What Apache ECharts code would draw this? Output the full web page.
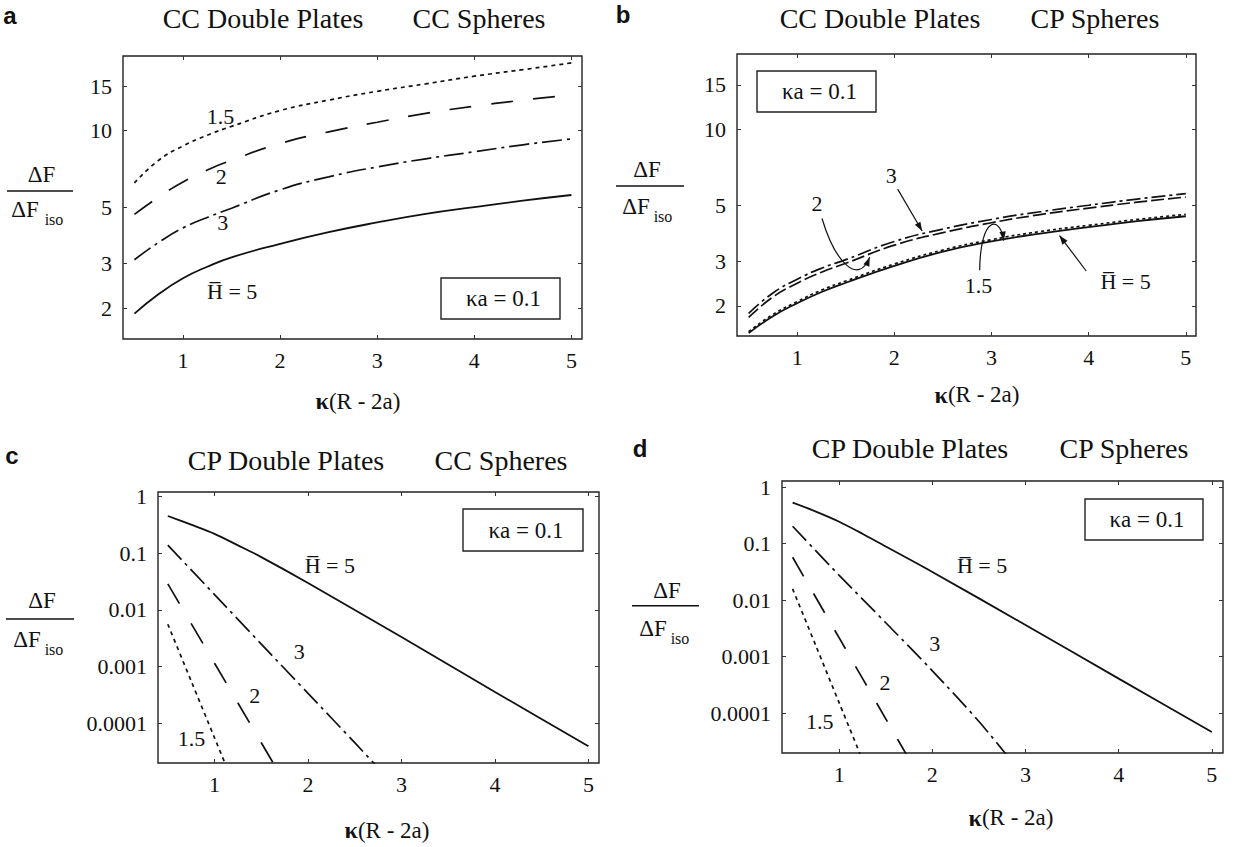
<!DOCTYPE html>
<html>
<head>
<meta charset="utf-8">
<script src="https://cdn.jsdelivr.net/npm/echarts@6/dist/echarts.min.js"></script>
<style>
  html, body { margin: 0; padding: 0; background: #fff; }
  #chart { width: 1242px; height: 847px; }
</style>
</head>
<body>
<div id="chart"></div>
<script>
// ---- tick values ----
const xTicks = [1, 2, 3, 4, 5];
const yTicksRatio = [2, 3, 5, 10, 15];
const yTicksDecade = [0.0001, 0.001, 0.01, 0.1, 1];

// ---- (a) CC double plates / CC spheres ----
const aX   = [0.5, 0.75, 1, 1.25, 1.5, 2, 2.5, 3, 3.5, 4, 4.5, 5];
const aH15 = [6.22, 7.65, 8.7, 9.6, 10.4, 12.0, 13.2, 14.3, 15.3, 16.4, 17.4, 18.5];
const aH2  = [4.68, 5.48, 6.28, 7.0, 7.65, 8.9, 9.9, 10.8, 11.7, 12.5, 13.2, 13.85];
const aH3  = [3.1, 3.63, 4.14, 4.55, 4.95, 5.85, 6.58, 7.2, 7.75, 8.26, 8.8, 9.28];
const aH5  = [1.90, 2.27, 2.62, 2.91, 3.17, 3.58, 3.98, 4.35, 4.7, 5.0, 5.3, 5.58];

// ---- (b) CC double plates / CP spheres ----
const bX   = [0.5, 0.75, 1, 1.25, 1.5, 2, 2.5, 3, 3.5, 4, 4.5, 5];
const bH15 = [1.58, 1.85, 2.08, 2.31, 2.51, 2.93, 3.33, 3.66, 3.94, 4.17, 4.4, 4.61];
const bH2  = [1.80, 2.17, 2.46, 2.72, 2.95, 3.48, 3.9, 4.27, 4.6, 4.88, 5.15, 5.4];
const bH3  = [1.87, 2.25, 2.55, 2.82, 3.05, 3.6, 4.03, 4.4, 4.72, 5.01, 5.3, 5.57];
const bH5  = [1.56, 1.82, 2.05, 2.27, 2.47, 2.88, 3.28, 3.6, 3.87, 4.1, 4.33, 4.53];

// ---- (c) CP double plates / CC spheres ----
const cX5  = [0.5, 0.75, 1, 1.25, 1.5, 2, 3, 4, 5];
const cH5  = [0.45, 0.316, 0.218, 0.137, 0.085, 0.0298, 0.00333, 0.00036, 0.0000397];
const cX3  = [0.5, 1, 1.5, 2, 2.5, 2.75];
const cH3  = [0.138, 0.0186, 0.0025, 0.00034, 0.000046, 0.0000166];
const cX2  = [0.5, 1, 1.5, 1.7];
const cH2  = [0.0288, 0.00115, 0.000046, 0.0000126];
const cX15 = [0.5, 0.75, 1, 1.15];
const cH15 = [0.0056, 0.00056, 0.000056, 0.000014];

// ---- (d) CP double plates / CP spheres ----
const dX5  = [0.5, 0.75, 1, 1.25, 1.5, 2, 3, 4, 5];
const dH5  = [0.533, 0.37, 0.245, 0.15, 0.089, 0.0316, 0.00363, 0.000407, 0.000046];
const dX3  = [0.5, 1, 1.5, 2, 2.5, 2.85];
const dH3  = [0.204, 0.0275, 0.00398, 0.00056, 0.000071, 0.0000141];
const dX2  = [0.5, 1, 1.5, 1.8];
const dH2  = [0.0575, 0.00214, 0.000079, 0.000011];
const dX15 = [0.5, 0.75, 1, 1.27];
const dH15 = [0.0158, 0.00155, 0.000151, 0.0000123];

// ---- look ----
const SERIF = 'Liberation Serif';
const SANS = 'Liberation Sans';
const INK = '#111';

const panels = [
  { grid: { left: 123, top: 56, width: 459, height: 283 }, x: [0.382, 5.109], y: [1.51, 19.7], yTicks: yTicksRatio, smooth: 0.5 },
  { grid: { left: 737, top: 54, width: 459, height: 282 }, x: [0.38, 5.105],  y: [1.52, 19.9], yTicks: yTicksRatio, smooth: 0.5 },
  { grid: { left: 158, top: 492, width: 441, height: 271 }, x: [0.395, 5.113], y: [2.02e-5, 1.19], yTicks: yTicksDecade, smooth: 0.3 },
  { grid: { left: 782, top: 481, width: 441, height: 272 }, x: [0.386, 5.12],  y: [1.96e-5, 1.29], yTicks: yTicksDecade, smooth: 0.3 }
];

const DOT = [4, 4];
const DASH = [22, 20];
const DASH_C = [23, 23];
const DASHDOT = [20, 5, 3, 5];
const DASH_B = [13, 4];
const DASHDOT_B = [14, 4, 3, 4];

const grids = panels.map(p => Object.assign({ show: true, borderColor: '#222', borderWidth: 1.4, backgroundColor: 'transparent' }, p.grid));

function xAxisOf(i, pos, showLabel) {
  const p = panels[i];
  return {
    type: 'value', gridIndex: i, position: pos, min: p.x[0], max: p.x[1],
    axisLine: { show: false }, splitLine: { show: false },
    axisTick: { show: true, inside: true, length: 4, customValues: xTicks, lineStyle: { color: '#333', width: 1 } },
    axisLabel: { show: showLabel, customValues: xTicks, margin: 10, color: INK, fontFamily: SERIF, fontSize: 22, formatter: v => String(v) }
  };
}
function yAxisOf(i, pos, showLabel) {
  const p = panels[i];
  return {
    type: 'log', logBase: 10, gridIndex: i, position: pos, min: p.y[0], max: p.y[1],
    axisLine: { show: false }, splitLine: { show: false }, minorTick: { show: false },
    axisTick: { show: true, inside: true, length: 4, customValues: p.yTicks, lineStyle: { color: '#333', width: 1 } },
    axisLabel: { show: showLabel, customValues: p.yTicks, margin: 11, color: INK, fontFamily: SERIF, fontSize: 22, formatter: v => String(v) }
  };
}

const xAxes = [0, 1, 2, 3].map(i => xAxisOf(i, 'bottom', true)).concat([0, 1, 2, 3].map(i => xAxisOf(i, 'top', false)));
const yAxes = [0, 1, 2, 3].map(i => yAxisOf(i, 'left', true)).concat([0, 1, 2, 3].map(i => yAxisOf(i, 'right', false)));
// secondary axes belong to the same grids
for (let i = 4; i < 8; i++) { xAxes[i].gridIndex = i - 4; yAxes[i].gridIndex = i - 4; }

function curve(i, xs, ys, dash, width) {
  return {
    type: 'line', xAxisIndex: i, yAxisIndex: i,
    data: xs.map((x, k) => [x, ys[k]]),
    showSymbol: false, symbol: 'none', smooth: panels[i].smooth,
    lineStyle: { color: INK, width: width || 1.7, type: dash, cap: 'butt' },
    silent: true, animation: false, z: 3
  };
}

const series = [
  curve(0, aX, aH15, DOT), curve(0, aX, aH2, DASH), curve(0, aX, aH3, DASHDOT), curve(0, aX, aH5, 'solid', 1.8),
  curve(1, bX, bH3, DASHDOT_B), curve(1, bX, bH2, DASH_B), curve(1, bX, bH15, [3, 3]), curve(1, bX, bH5, 'solid', 1.8),
  curve(2, cX15, cH15, DOT), curve(2, cX2, cH2, DASH_C), curve(2, cX3, cH3, DASHDOT), curve(2, cX5, cH5, 'solid', 1.8),
  curve(3, dX15, dH15, DOT), curve(3, dX2, dH2, DASH), curve(3, dX3, dH3, DASHDOT), curve(3, dX5, dH5, 'solid', 1.8)
];

const chart = echarts.init(document.getElementById('chart'), null, { renderer: 'svg', width: 1242, height: 847 });
chart.setOption({
  backgroundColor: '#fff',
  animation: false,
  grid: grids,
  xAxis: xAxes,
  yAxis: yAxes,
  series: series
});

// ---- annotations (placed in data coordinates of each panel) ----
const HBAR = 'H\u0305 = 5';
const curveLabels = [
  [0, 1.385, 11.4, '1.5'], [0, 1.395, 6.58, '2'], [0, 1.41, 4.33, '3'], [0, 1.507, 2.32, HBAR],
  [1, 1.969, 6.59, '3'], [1, 1.203, 5.08, '2'], [1, 2.865, 2.41, '1.5'], [1, 4.38, 2.5, HBAR],
  [2, 2.234, 0.061, HBAR], [2, 1.905, 1.82e-3, '3'], [2, 1.431, 3.14e-4, '2'], [2, 0.754, 5.42e-5, '1.5'],
  [3, 2.534, 0.0405, HBAR], [3, 2.025, 1.68e-3, '3'], [3, 1.491, 3.5e-4, '2'], [3, 0.791, 7.19e-5, '1.5']
];
const straightArrows = [
  [1, [2.034, 5.8], [2.286, 3.96]],
  [1, [3.975, 2.75], [3.7, 3.8]]
];
const curvedArrows = [
  [1, [1.255, 4.44], [1.392, 2.97], [1.629, 2.40], [1.746, 3.12]],
  [1, [2.878, 2.77], [2.885, 4.57], [3.092, 4.57], [3.126, 3.63]]
];

// ---- page furniture (pixel layout) ----
const panelLetters = [['a', 10, 15], ['b', 623, 14], ['c', 12, 455], ['d', 640, 448]];
const panelTitles = [
  ['CC Double Plates', 263, 18.5], ['CC Spheres', 479, 18.5],
  ['CC Double Plates', 880, 18.5], ['CP Spheres', 1095, 18.5],
  ['CP Double Plates', 286, 460], ['CC Spheres', 501, 460],
  ['CP Double Plates', 910, 448.5], ['CP Spheres', 1124, 448.5]
];
const kaBoxes = [[441, 278, 119, 41], [757, 71, 119, 41], [463, 509, 120, 42], [1085, 499, 118, 41]];
// fraction label: top ΔF centre, rule (y, x1, x2), bottom ΔF centre, subscript centre
const yTitles = [
  { top: [41.5, 174], rule: [191, 7, 73], bot: [25, 209], sub: [54, 219] },
  { top: [647, 169.5], rule: [186, 616, 684], bot: [636, 206], sub: [663, 216] },
  { top: [42, 600], rule: [619, 6, 74], bot: [27, 639], sub: [54, 649] },
  { top: [667, 590], rule: [605.7, 632, 699], bot: [653, 628.5], sub: [680, 638.5] }
];
const xTitles = [[358, 401], [977, 394.5], [387, 830], [1011, 817.5]];

function P(i, pt) { return chart.convertToPixel({ xAxisIndex: i, yAxisIndex: i }, pt); }
function txt(text, x, y, size, extra) {
  return { type: 'text', z: 50, silent: true,
    style: Object.assign({ text, x, y, fill: INK, fontFamily: SERIF, fontSize: size, align: 'center', verticalAlign: 'middle' }, extra || {}) };
}
function arrowHead(tip, from) {
  const dx = tip[0] - from[0], dy = tip[1] - from[1];
  const L = Math.hypot(dx, dy) || 1, ux = dx / L, uy = dy / L;
  const len = 9, half = 3.2;
  const bx = tip[0] - ux * len, by = tip[1] - uy * len;
  return { type: 'polygon', z: 51, silent: true,
    shape: { points: [tip, [bx - uy * half, by + ux * half], [bx + uy * half, by - ux * half]] },
    style: { fill: INK } };
}

const g = [];
panelLetters.forEach(([t, x, y]) => g.push(txt(t, x, y, 24, { fontFamily: SANS, fontWeight: 'bold' })));
panelTitles.forEach(([t, x, y]) => g.push(txt(t, x, y, 28)));
kaBoxes.forEach(([x, y, w, h]) => {
  g.push({ type: 'rect', z: 40, silent: true, shape: { x, y, width: w, height: h }, style: { fill: '#fff', stroke: '#222', lineWidth: 1.4 } });
  g.push(txt('\u03BAa = 0.1', x + w / 2 + 3, y + h / 2, 23));
});
yTitles.forEach(t => {
  g.push(txt('\u0394F', t.top[0], t.top[1], 23));
  g.push({ type: 'line', z: 50, silent: true, shape: { x1: t.rule[1], y1: t.rule[0], x2: t.rule[2], y2: t.rule[0] }, style: { stroke: INK, lineWidth: 1.5 } });
  g.push(txt('\u0394F', t.bot[0], t.bot[1], 23));
  g.push(txt('iso', t.sub[0], t.sub[1], 16));
});
xTitles.forEach(([x, y]) => g.push(txt('{k|\u03BA}(R - 2a)', x, y, 23, { rich: { k: { fontWeight: 'bold', fontFamily: SERIF, fontSize: 24, fill: INK } } })));
curveLabels.forEach(([i, x, y, t]) => { const p = P(i, [x, y]); g.push(txt(t, p[0], p[1], 22)); });
straightArrows.forEach(([i, a, b]) => {
  const p0 = P(i, a), p1 = P(i, b);
  g.push({ type: 'line', z: 51, silent: true, shape: { x1: p0[0], y1: p0[1], x2: p1[0], y2: p1[1] }, style: { stroke: INK, lineWidth: 1.2 } });
  g.push(arrowHead(p1, p0));
});
curvedArrows.forEach(([i, a, c1, c2, b]) => {
  const p0 = P(i, a), q1 = P(i, c1), q2 = P(i, c2), p1 = P(i, b);
  g.push({ type: 'bezierCurve', z: 51, silent: true,
    shape: { x1: p0[0], y1: p0[1], cpx1: q1[0], cpy1: q1[1], cpx2: q2[0], cpy2: q2[1], x2: p1[0], y2: p1[1] },
    style: { stroke: INK, lineWidth: 1.2, fill: 'none' } });
  g.push(arrowHead(p1, q2));
});

chart.setOption({ graphic: g });
</script>
</body>
</html>
